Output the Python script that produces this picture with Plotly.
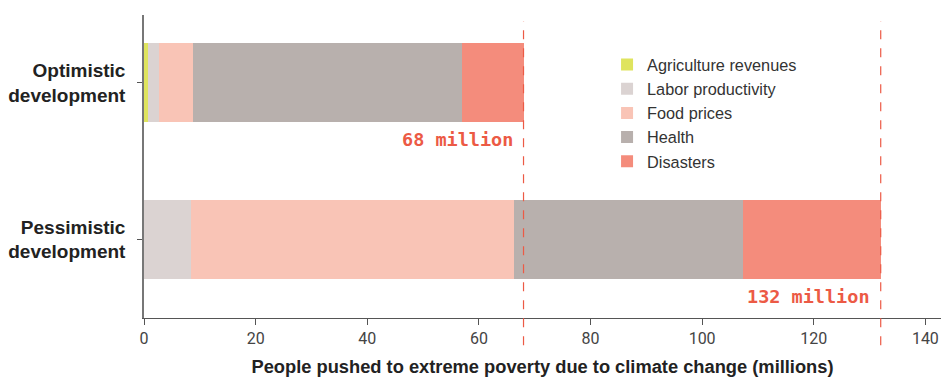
import plotly.graph_objects as go

scenarios = ["Pessimistic<br>development", "Optimistic<br>development"]
components = ["Agriculture revenues", "Labor productivity", "Food prices", "Health", "Disasters"]
agriculture = [0.0, 0.8]
labor = [8.5, 1.9]
food = [57.8, 6.1]
health = [41.0, 48.2]
disasters = [24.7, 11.0]
totals = [132, 68]
total_labels = ["132 million", "68 million"]
x_ticks = [0, 20, 40, 60, 80, 100, 120, 140]

colors = ["#dfe45e", "#dbd3d2", "#f9c4b6", "#b8b0ad", "#f48c7c"]
series = [agriculture, labor, food, health, disasters]

fig = go.Figure()
for name, vals, c in zip(components, series, colors):
    fig.add_trace(go.Bar(y=scenarios, x=vals, name=name, orientation="h",
                         marker=dict(color=c, line=dict(width=0)), width=0.5))

red = "#ec5a45"
for t, lab, sc in zip(totals, total_labels, scenarios):
    fig.add_shape(type="line", x0=t, x1=t, xref="x", yref="paper", y0=-0.09, y1=0.98,
                  line=dict(color=red, width=1.2, dash="dash"))
    fig.add_annotation(x=t, y=sc, yref="y", xref="x", text=lab, showarrow=False,
                       xanchor="right", yanchor="middle", yshift=-57, xshift=-9,
                       font=dict(family="DejaVu Sans Mono", size=18.5, color=red, weight="bold"))

fig.update_layout(
    width=941, height=377,
    margin=dict(l=144, r=0, t=15, b=59),
    plot_bgcolor="white", paper_bgcolor="white",
    barmode="stack", bargap=0.5,
    font=dict(family="Liberation Sans", color="#333"),
    showlegend=True,
    legend=dict(x=0.581, y=0.893, xanchor="left", yanchor="top", traceorder="normal",
                font=dict(family="Liberation Sans", size=16.3, color="#333"), bgcolor="rgba(0,0,0,0)",
                tracegroupgap=0, itemwidth=30),
    xaxis=dict(range=[0, 142.8], tickvals=x_ticks, showgrid=False, zeroline=False,
               showline=True, linecolor="#555", linewidth=1, ticks="outside", ticklen=6,
               tickcolor="#555", tickfont=dict(family="Roboto", size=16, color="#444"),
               title=dict(text="People pushed to extreme poverty due to climate change (millions)",
                          font=dict(family="Liberation Sans", size=18.3, color="#222", weight="bold"),
                          standoff=15)),
    yaxis=dict(range=[-0.5, 1.43], showgrid=False, zeroline=False, showline=True,
               linecolor="#777", linewidth=1.5, ticks="outside", ticklen=5, tickcolor="#555",
               tickfont=dict(family="Liberation Sans", size=19, color="#222", weight="bold"),
               ticklabelstandoff=8),
)

fig.write_html("out.html")
